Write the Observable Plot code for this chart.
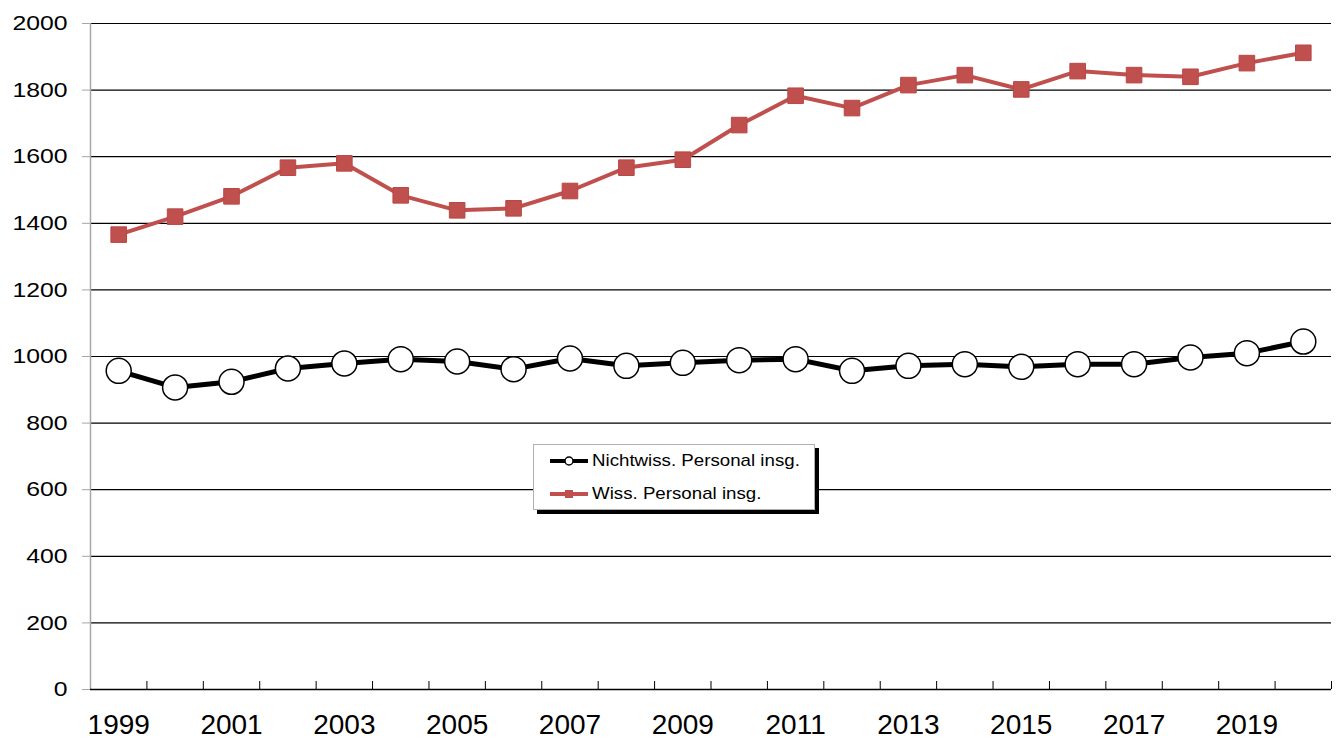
<!DOCTYPE html>
<html>
<head>
<meta charset="utf-8">
<script src="https://cdn.jsdelivr.net/npm/d3@7"></script>
<script src="https://cdn.jsdelivr.net/npm/@observablehq/plot@0.6"></script>
<style>
  html, body { margin: 0; padding: 0; background: white; }
  #wrap { position: relative; width: 1343px; height: 740px; font-family: "Liberation Sans", Arial, sans-serif; }
  #legend { position: absolute; left: 533px; top: 444px; width: 282px; height: 66px; background: white;
            border: 1px solid #b0b0b0; box-shadow: 4px 4px 0 #000; box-sizing: border-box; }
  .row { position: absolute; left: 15px; height: 20px; display: flex; align-items: center; font-size: 17px; color: #000; }
  .row svg { margin-right: 3px; }
  .row span { display: inline-block; transform: scaleX(1.1); transform-origin: left center; }
</style>
</head>
<body>
<div id="wrap"></div>
<script>
const years = [1999, 2000, 2001, 2002, 2003, 2004, 2005, 2006, 2007, 2008, 2009, 2010, 2011, 2012, 2013, 2014, 2015, 2016, 2017, 2018, 2019, 2020];
const wissPersonal = [1366, 1420, 1481, 1567, 1580, 1484, 1439, 1445, 1497, 1567, 1591, 1695, 1783, 1746, 1815, 1845, 1802, 1857, 1845, 1840, 1881, 1912];
const nichtwissPersonal = [957, 907, 924, 964, 979, 992, 985, 962, 994, 972, 981, 989, 992, 957, 972, 977, 969, 977, 977, 997, 1010, 1045];
const yTicks = [0, 200, 400, 600, 800, 1000, 1200, 1400, 1600, 1800, 2000];
const xLabelYears = [1999, 2001, 2003, 2005, 2007, 2009, 2011, 2013, 2015, 2017, 2019];
const seriesNames = ["Nichtwiss. Personal insg.", "Wiss. Personal insg."];

const data = years.map((year, i) => ({year, wiss: wissPersonal[i], nicht: nichtwissPersonal[i]}));
const boundaries = years.map(y => y - 0.5).concat([years[years.length - 1] + 0.5]);

const chart = Plot.plot({
  width: 1343,
  height: 740,
  marginLeft: 90,
  marginRight: 12,
  marginTop: 23,
  marginBottom: 51,
  style: {fontFamily: "'Liberation Sans', Arial, sans-serif", background: "white", overflow: "visible", color: "black"},
  x: {domain: [boundaries[0], boundaries[boundaries.length - 1]]},
  y: {domain: [0, 2000]},
  marks: [
    Plot.ruleY(yTicks, {stroke: "black", strokeWidth: 1.2}),
    Plot.axisY({ticks: yTicks, tickSize: 8, tickPadding: 15, stroke: "#a6a6a6", fill: "black", fontSize: 21, label: null, tickFormat: d => String(d)}),
    Plot.axisX({ticks: boundaries, tickSize: 8, dy: -8, stroke: "black", tickFormat: () => "", label: null}),
    Plot.axisX({ticks: xLabelYears, tickSize: 0, tickPadding: 25, fontSize: 28, fill: "black", label: null, tickFormat: d => String(d)}),
    Plot.ruleX([boundaries[0]], {stroke: "#a6a6a6", strokeWidth: 1.5}),
    Plot.ruleY([0], {stroke: "black", strokeWidth: 1.5}),
    Plot.line(data, {x: "year", y: "nicht", stroke: "black", strokeWidth: 5}),
    Plot.dot(data, {x: "year", y: "nicht", r: 12.5, fill: "white", stroke: "black", strokeWidth: 1.5}),
    Plot.line(data, {x: "year", y: "wiss", stroke: "#c0504d", strokeWidth: 4}),
    Plot.dot(data, {x: "year", y: "wiss", symbol: "square", r: 8.8, fill: "#c0504d", stroke: "#b84845", strokeWidth: 1})
  ]
});

d3.select(chart).selectAll('g[aria-label="y-axis tick label"] text').each(function() {
  const t = this.getAttribute("transform") || "";
  this.setAttribute("transform", t + " scale(1.18,1)");
});

const wrap = document.getElementById("wrap");
wrap.appendChild(chart);

const legend = document.createElement("div");
legend.id = "legend";
legend.innerHTML = `
  <div class="row" style="top:6px">
    <svg width="40" height="12"><line x1="1" y1="6" x2="39" y2="6" stroke="black" stroke-width="4"/><circle cx="20" cy="6" r="4" fill="white" stroke="black" stroke-width="1.5"/></svg>
    <span>${seriesNames[0]}</span>
  </div>
  <div class="row" style="top:39px">
    <svg width="40" height="12"><line x1="1" y1="6" x2="39" y2="6" stroke="#c0504d" stroke-width="4"/><rect x="16" y="2" width="8" height="8" fill="#c0504d"/></svg>
    <span>${seriesNames[1]}</span>
  </div>`;
wrap.appendChild(legend);
</script>
</body>
</html>
